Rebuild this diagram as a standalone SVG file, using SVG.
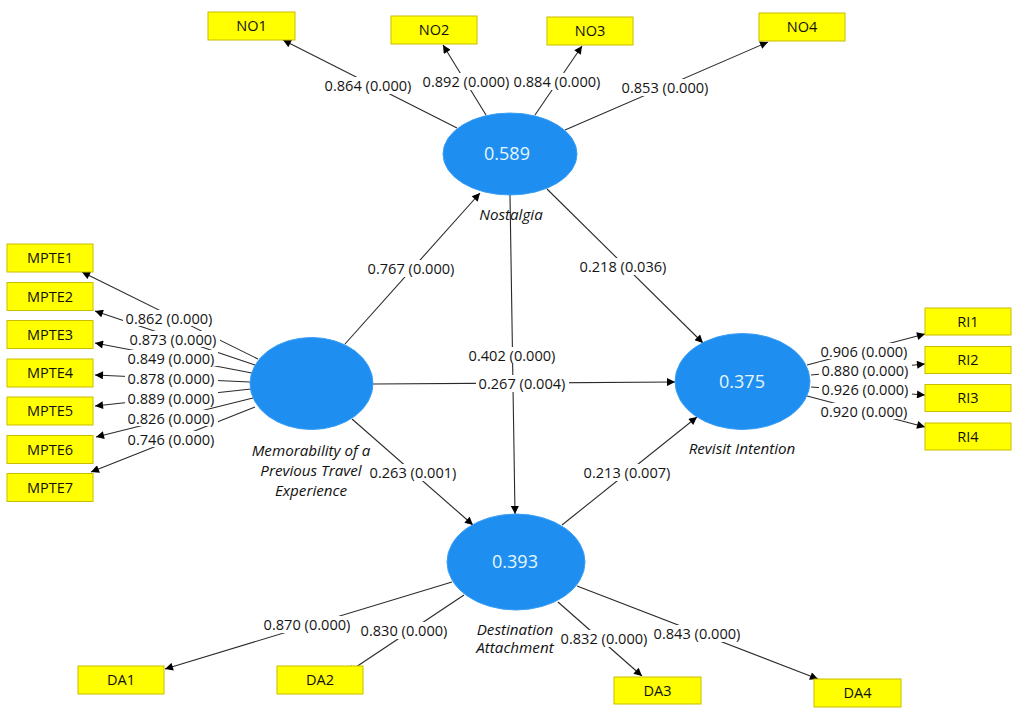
<svg xmlns="http://www.w3.org/2000/svg" width="1021" height="717" viewBox="0 0 1021 717">
<style>
.bg{fill:#ffffff}
.ind rect{fill:#ffff00;stroke:#c9bd00;stroke-width:1}
.ind text{font-family:"Open Sans","Liberation Sans",sans-serif;font-size:14.5px;fill:#111;text-anchor:middle}
.lv ellipse{fill:#1e8ef0;stroke:#3a9ef5;stroke-width:1}
.lv text.r2{font-family:"Open Sans","Liberation Sans",sans-serif;font-size:18px;fill:#e6f6ff;text-anchor:middle}
.lv text.nm{font-family:"Open Sans","Liberation Sans",sans-serif;font-size:15.2px;font-style:italic;fill:#111;text-anchor:middle}
.cx line{stroke:#2a2a2a;stroke-width:1.1;marker-end:url(#ah)}
.lb rect{fill:#ffffff}
.lb text{font-family:"Open Sans","Liberation Sans",sans-serif;font-size:14.6px;fill:#141414;text-anchor:middle}
</style>
<defs>
<marker id="ah" viewBox="0 0 10 10" refX="10" refY="5" markerWidth="10" markerHeight="8" markerUnits="userSpaceOnUse" orient="auto">
<path d="M0,0 L10,5 L0,10 z" fill="#000"/>
</marker>
</defs>
<rect class="bg" x="0" y="0" width="1021" height="717"/>

<g id="connectors" class="cx">
<line x1="457" y1="128" x2="283" y2="40"/>
<line x1="486" y1="115" x2="443" y2="45"/>
<line x1="535" y1="115" x2="582" y2="46"/>
<line x1="565" y1="130" x2="768" y2="42"/>
<line x1="258" y1="359" x2="82" y2="272"/>
<line x1="255" y1="365" x2="95" y2="311"/>
<line x1="252" y1="373" x2="95" y2="343"/>
<line x1="250" y1="382" x2="95" y2="375"/>
<line x1="251" y1="389" x2="95" y2="406"/>
<line x1="253" y1="398" x2="96" y2="437"/>
<line x1="255" y1="407" x2="91" y2="472"/>
<line x1="807" y1="365" x2="925" y2="334"/>
<line x1="811" y1="375" x2="925" y2="364"/>
<line x1="811" y1="387" x2="925" y2="395"/>
<line x1="807" y1="396" x2="925" y2="427"/>
<line x1="345" y1="344" x2="480" y2="193"/>
<line x1="547" y1="189" x2="703" y2="343"/>
<line x1="510" y1="195" x2="515" y2="514"/>
<line x1="373" y1="384" x2="675" y2="382"/>
<line x1="352" y1="419" x2="473" y2="525"/>
<line x1="562" y1="525" x2="697" y2="417"/>
<line x1="452" y1="582" x2="165" y2="669"/>
<line x1="464" y1="595" x2="347" y2="673"/>
<line x1="558" y1="602" x2="642" y2="676"/>
<line x1="577" y1="586" x2="818" y2="679"/>
</g>

<g id="labels" class="lb">
<rect x="322" y="77" width="93" height="17"/><text x="368" y="90.5">0.864 (0.000)</text>
<rect x="420" y="73" width="92" height="17"/><text x="466" y="86.5">0.892 (0.000)</text>
<rect x="512" y="73" width="91" height="17"/><text x="557" y="86.5">0.884 (0.000)</text>
<rect x="619" y="79" width="93" height="17"/><text x="665" y="92.5">0.853 (0.000)</text>

<rect x="123" y="310" width="93" height="16"/><text x="169" y="323.5">0.862 (0.000)</text>
<rect x="127" y="331" width="93" height="16"/><text x="173" y="344.5">0.873 (0.000)</text>
<rect x="125" y="350" width="93" height="16"/><text x="171" y="363.5">0.849 (0.000)</text>
<rect x="125" y="370" width="93" height="16"/><text x="171" y="383.5">0.878 (0.000)</text>
<rect x="125" y="390" width="93" height="16"/><text x="171" y="403.5">0.889 (0.000)</text>
<rect x="125" y="410" width="93" height="16"/><text x="171" y="423.5">0.826 (0.000)</text>
<rect x="125" y="431" width="93" height="16"/><text x="171" y="444.5">0.746 (0.000)</text>

<rect x="818" y="343" width="93" height="16"/><text x="864" y="356.5">0.906 (0.000)</text>
<rect x="819" y="362" width="93" height="16"/><text x="865" y="375.5">0.880 (0.000)</text>
<rect x="819" y="381" width="93" height="16"/><text x="865" y="394.5">0.926 (0.000)</text>
<rect x="818" y="403" width="93" height="16"/><text x="864" y="416.5">0.920 (0.000)</text>

<rect x="365" y="260" width="93" height="17"/><text x="411" y="273.5">0.767 (0.000)</text>
<rect x="577" y="258" width="93" height="17"/><text x="623" y="271.5">0.218 (0.036)</text>
<rect x="466" y="347" width="93" height="17"/><text x="512" y="360.5">0.402 (0.000)</text>
<rect x="476" y="375" width="93" height="17"/><text x="522" y="388.5">0.267 (0.004)</text>
<rect x="367" y="464" width="91" height="17"/><text x="413" y="477.5">0.263 (0.001)</text>
<rect x="581" y="464" width="93" height="17"/><text x="627" y="477.5">0.213 (0.007)</text>

<rect x="261" y="616" width="93" height="17"/><text x="307" y="629.5">0.870 (0.000)</text>
<rect x="358" y="622" width="93" height="17"/><text x="404" y="635.5">0.830 (0.000)</text>
<rect x="651" y="625" width="93" height="17"/><text x="697" y="638.5">0.843 (0.000)</text>
<rect x="559" y="630" width="91" height="17"/><text x="604" y="643.5">0.832 (0.000)</text>
</g>

<g id="node-NO" class="lv">
<ellipse cx="510" cy="154" rx="67" ry="41"/>
<text class="r2" x="507" y="160">0.589</text>
<text class="nm" x="511" y="220">Nostalgia</text>
</g>
<g id="node-MPTE" class="lv">
<ellipse cx="311.5" cy="383.5" rx="61.5" ry="46"/>
<text class="nm" x="311" y="456">Memorability of a</text>
<text class="nm" x="311" y="476">Previous Travel</text>
<text class="nm" x="311" y="496">Experience</text>
</g>
<g id="node-RI" class="lv">
<ellipse cx="742.5" cy="381.5" rx="67.5" ry="48"/>
<text class="r2" x="742" y="388">0.375</text>
<text class="nm" x="742" y="454">Revisit Intention</text>
</g>
<g id="node-DA" class="lv">
<ellipse cx="516" cy="562" rx="69" ry="48"/>
<text class="r2" x="515" y="568">0.393</text>
<text class="nm" x="515" y="635">Destination</text>
<text class="nm" x="515" y="653">Attachment</text>
</g>

<g id="ind-NO1" class="ind"><rect x="208" y="12" width="87" height="28"/><text x="251.5" y="31">NO1</text></g>
<g id="ind-NO2" class="ind"><rect x="391" y="16" width="86" height="28"/><text x="434" y="35">NO2</text></g>
<g id="ind-NO3" class="ind"><rect x="547" y="17" width="86" height="28"/><text x="590" y="36">NO3</text></g>
<g id="ind-NO4" class="ind"><rect x="759" y="13" width="86" height="28"/><text x="802" y="32">NO4</text></g>

<g id="ind-MPTE1" class="ind"><rect x="7" y="244" width="86" height="28"/><text x="50" y="263">MPTE1</text></g>
<g id="ind-MPTE2" class="ind"><rect x="7" y="282.5" width="86" height="28"/><text x="50" y="301.5">MPTE2</text></g>
<g id="ind-MPTE3" class="ind"><rect x="7" y="320.5" width="86" height="28"/><text x="50" y="339.5">MPTE3</text></g>
<g id="ind-MPTE4" class="ind"><rect x="7" y="359" width="86" height="28"/><text x="50" y="378">MPTE4</text></g>
<g id="ind-MPTE5" class="ind"><rect x="7" y="397" width="86" height="28"/><text x="50" y="416">MPTE5</text></g>
<g id="ind-MPTE6" class="ind"><rect x="7" y="435.5" width="86" height="28"/><text x="50" y="454.5">MPTE6</text></g>
<g id="ind-MPTE7" class="ind"><rect x="7" y="473.5" width="86" height="28"/><text x="50" y="492.5">MPTE7</text></g>

<g id="ind-RI1" class="ind"><rect x="925" y="308" width="86" height="27"/><text x="968" y="326.5">RI1</text></g>
<g id="ind-RI2" class="ind"><rect x="925" y="346.5" width="86" height="27"/><text x="968" y="365">RI2</text></g>
<g id="ind-RI3" class="ind"><rect x="925" y="384.5" width="86" height="27"/><text x="968" y="403">RI3</text></g>
<g id="ind-RI4" class="ind"><rect x="925" y="423" width="86" height="27"/><text x="968" y="441.5">RI4</text></g>

<g id="ind-DA1" class="ind"><rect x="78" y="666" width="86" height="28"/><text x="121" y="685">DA1</text></g>
<g id="ind-DA2" class="ind"><rect x="277" y="666" width="86" height="28"/><text x="320" y="685">DA2</text></g>
<g id="ind-DA3" class="ind"><rect x="614" y="677" width="87" height="27"/><text x="657.5" y="695.5">DA3</text></g>
<g id="ind-DA4" class="ind"><rect x="814" y="679" width="87" height="28"/><text x="857.5" y="698">DA4</text></g>
</svg>
